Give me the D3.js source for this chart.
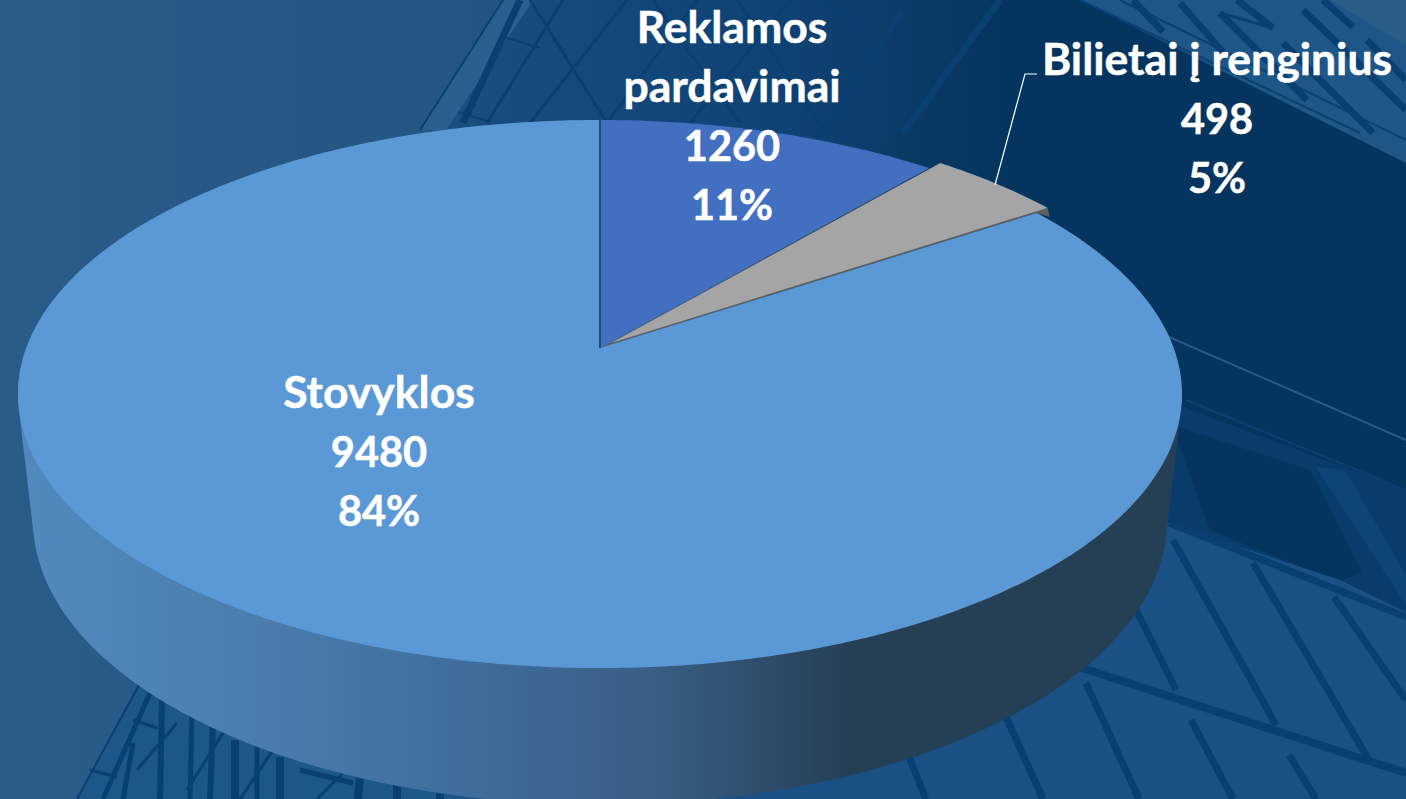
<!DOCTYPE html>
<html>
<head>
<meta charset="utf-8">
<script src="https://cdn.jsdelivr.net/npm/d3@7"></script>
<style>
  html, body { margin: 0; padding: 0; background: #05345f; overflow: hidden; }
  svg { display: block; }
</style>
</head>
<body>
<svg id="canvas" width="1406" height="799"></svg>
<script>
// chart values, clockwise from twelve o'clock
let categories = ['Reklamos pardavimai', 'Bilietai į renginius', 'Stovyklos'];
let values = [1260, 498, 9480];
let percents = ['11%', '5%', '84%'];
let colors = ['#426fc0', '#a5a5a5', '#5b99d6'];

// building photo behind the chart: [fill, points]
let backdropShapes = [
    ['url(#lattice)', [[533,0],[446,130],[860,175],[1000,0]]],
    ['#2a5f8d', [[503,0],[533,0],[446,130],[420,130]]],
    ['#1f5688', [[1080,0],[1406,163],[1406,0]]],
    ['#2a5c88', [[1330,0],[1406,45],[1406,0]]],
    ['#0a3c6b', [[1165,400],[1406,490],[1406,640],[1165,560]]],
    ['#05345f', [[1172,425],[1310,470],[1362,572],[1338,582],[1210,530]]],
    ['#0f4476', [[1316,467],[1345,470],[1406,575],[1406,605]]],
    ['#1a5083', [[1165,522],[1340,580],[1406,612],[1406,799],[700,799],[1000,720]]],
    ['#1d5688', [[140,683],[77,799],[480,799],[400,780],[250,740]]]
];
// [width, x1, y1, x2, y2]
let backdropLines = [
    // lattice over the top
    [7,520,0,463,123],[2,503,0,420,130],[2,507,38,540,48],[2,458,112,490,122],
    [3,563,0,487,123],[3,627,0,530,123],[3,697,0,607,123],[3,790,0,690,123],[5,903,10,810,150],
    [3,530,0,607,123],[3,653,0,740,123],[3,737,0,837,150],[3,820,0,870,33],[7,1000,0,903,133],
    // roof top right
    [2,1080,0,1360,133],[2,1120,0,1406,140],
    [7,1133,0,1163,32],[7,1180,3,1227,57],[7,1220,13,1307,100],[7,1237,0,1273,28],[3,1220,13,1273,28],
    [7,1283,43,1373,133],[7,1323,0,1353,27],[7,1303,10,1406,110],[7,1367,40,1406,80],
    // panels bottom right
    [7,1169,523,1406,617],[8,1079,667,1406,773],
    [7,1173,540,1276,725],[7,1253,563,1369,760],[7,1334,597,1406,700],[7,1136,610,1176,690],
    [7,1086,683,1139,799],[7,1191,720,1233,799],[7,1289,755,1316,799],[7,1006,717,1043,799],[7,909,757,926,799],
    [2,1186,400,1406,490],
    // scaffold bottom left
    [2,140,683,77,799],[5,150,693,103,799],[5,133,743,123,799],[6,162,700,160,799],
    [3,133,720,157,728],[3,90,770,117,777],
    [5,192,713,190,799],[6,213,723,210,799],[8,235,740,235,799],[5,257,745,257,799],[8,280,757,280,799],
    [3,223,733,187,790],[3,273,750,240,799],[3,177,723,137,770],[5,300,770,353,783],[3,343,773,317,799],
    [8,360,777,358,799],[8,397,783,397,799],[8,440,790,440,799]
];

let width = 1406;
let height = 799;
let canvas = d3.select('#canvas');
let defs = canvas.append('defs');

let addGradient = (id, x1, x2, stops) => {
    let gradient = defs.append('linearGradient').attr('id', id)
        .attr('gradientUnits', 'userSpaceOnUse')
        .attr('x1', x1).attr('x2', x2).attr('y1', 0).attr('y2', 0);
    stops.forEach((s) => {
        gradient.append('stop').attr('offset', s[0]).attr('stop-color', s[1]);
    });
};

addGradient('bg', 0, 1000, [[0, '#2a5c88'], [0.45, '#255583'], [1, '#05345f']]);
addGradient('lattice', 450, 1000, [[0, '#1b4e80'], [0.6, '#0f4274'], [1, '#07365f']]);
addGradient('wall', 30, 1170, [[0, '#5289bd'], [0.2, '#4a7dae'], [0.4, '#3f6b99'], [0.55, '#385e84'], [0.72, '#253f55'], [1, '#253f55']]);

canvas.append('rect').attr('width', width).attr('height', height).attr('fill', 'url(#bg)');

let line = d3.line();

canvas.append('g').selectAll('path')
    .data(backdropShapes)
    .enter()
    .append('path')
    .attr('d', (d) => line(d[1]) + 'Z')
    .attr('fill', (d) => d[0]);

canvas.append('g').selectAll('line')
    .data(backdropLines)
    .enter()
    .append('line')
    .attr('x1', (d) => d[1]).attr('y1', (d) => d[2])
    .attr('x2', (d) => d[3]).attr('y2', (d) => d[4])
    .attr('stroke', '#0a3f72')
    .attr('stroke-width', (d) => d[0]);

canvas.append('line')
    .attr('x1', 1169).attr('y1', 337).attr('x2', 1406).attr('y2', 440)
    .attr('stroke', '#2a5a88').attr('stroke-width', 2);

// perspective: a unit circle is pushed through a projective map, so the apex sits above the ellipse centre
let squeeze = 0.168;
let topFace = { cx: 600, apexY: 348, rx: 573.7, ry: 266.3 };
let bottomFace = { cx: 600, apexY: 472, rx: 559, ry: 276.8 };

let project = (face, angle) => {
    let u = Math.sin(angle);
    let v = Math.cos(angle);
    let w = 1 + squeeze * v;
    return [face.cx + face.rx * u / w, face.apexY - face.ry * v / w];
};

let rim = (face, start, end) => {
    let steps = Math.max(8, Math.ceil((end - start) / 0.01));
    return d3.range(steps + 1).map((i) => project(face, start + (end - start) * i / steps));
};

let pie = d3.pie().sort(null).startAngle(0).endAngle(2 * Math.PI);
let slices = pie(values);
let adSlice = slices[0];
let ticketSlice = slices[1];
let campSlice = slices[2];

let apex = [topFace.cx, topFace.apexY];
let ticketShift = [11, -5];  // the small slice is pulled out a little
let shifted = (p) => [p[0] + ticketShift[0], p[1] + ticketShift[1]];

// outer wall of the big slice, hull gives the straight silhouette on both sides
let wallPoints = d3.polygonHull(
    rim(topFace, campSlice.startAngle, campSlice.endAngle)
        .concat(rim(bottomFace, campSlice.startAngle, campSlice.endAngle))
);
canvas.append('path').attr('d', line(wallPoints) + 'Z').attr('fill', 'url(#wall)');

// thin side of the pulled out slice
let tip = shifted(project(topFace, ticketSlice.endAngle));
canvas.append('path')
    .attr('d', line([
        shifted(apex), tip, [tip[0] + 2, tip[1] + 9],
        project(topFace, ticketSlice.endAngle), apex
    ]) + 'Z')
    .attr('fill', '#5e5e5e');

// top faces
let sectorPoints = (s) => [apex].concat(rim(topFace, s.startAngle, s.endAngle));

canvas.append('path').attr('d', line(sectorPoints(campSlice)) + 'Z').attr('fill', colors[2]);
canvas.append('path').attr('d', line(sectorPoints(ticketSlice).map(shifted)) + 'Z').attr('fill', colors[1]);
canvas.append('path').attr('d', line(sectorPoints(adSlice)) + 'Z').attr('fill', colors[0]);

// dark seam where the first slice starts
canvas.append('path')
    .attr('d', line([apex, project(topFace, 0)]))
    .attr('stroke', '#264a78').attr('stroke-width', 2).attr('fill', 'none');

// leader line for the ticket slice
canvas.append('path')
    .attr('d', line([[995, 185], [1025, 74], [1037, 74]]))
    .attr('stroke', '#ffffff').attr('stroke-width', 1.2).attr('fill', 'none');

// labels, words run a bit larger than numbers because Lato has wider digits than the original face
let labels = [
    { x: 732, y: 43, lines: ['Reklamos', 'pardavimai', values[0], percents[0]] },
    { x: 1217, y: 75, lines: ['Bilietai į renginius', values[1], percents[1]] },
    { x: 379, y: 408, lines: ['Stovyklos', values[2], percents[2]] }
];

labels.forEach((label) => {
    canvas.append('g').selectAll('text')
        .data(label.lines)
        .enter()
        .append('text')
        .attr('x', label.x)
        .attr('y', (d, i) => label.y + i * 59)
        .attr('text-anchor', 'middle')
        .attr('font-family', 'Lato, "Open Sans", sans-serif')
        .attr('font-weight', 700)
        .attr('font-size', (d) => (typeof d === 'number' || d.endsWith('%')) ? 41.5 : 44.5)
        .attr('fill', '#ffffff')
        .attr('stroke', '#ffffff')
        .attr('stroke-width', 0.5)
        .text((d) => d);
});
</script>
</body>
</html>
